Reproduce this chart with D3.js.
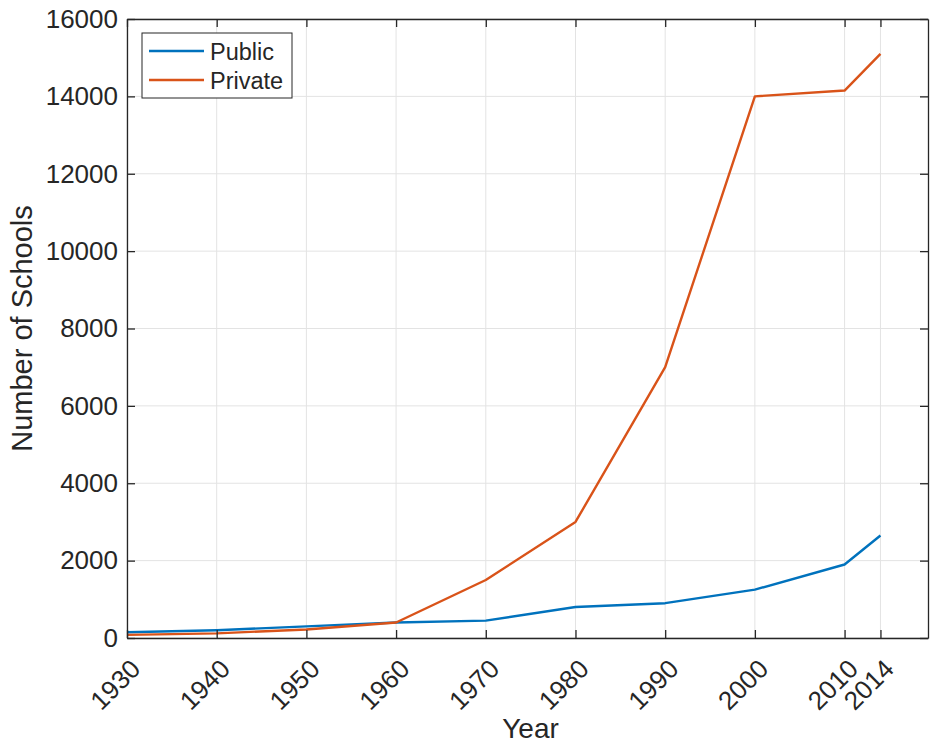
<!DOCTYPE html>
<html>
<head>
<meta charset="utf-8">
<script src="https://cdn.jsdelivr.net/npm/d3@7"></script>
<style>
  body { margin: 0; background: #fff; }
  svg text { font-family: "Liberation Sans", Arial, Helvetica, sans-serif; fill: #262626; }
</style>
</head>
<body>
<div id="chart"></div>
<script>
// data
var years = [1930, 1940, 1950, 1960, 1970, 1980, 1990, 2000, 2010, 2014];
var publicSchools = [150, 200, 300, 400, 450, 800, 900, 1250, 1900, 2650];
var privateSchools = [80, 120, 220, 400, 1500, 3000, 7000, 14000, 14150, 15100];
var seriesNames = ["Public", "Private"];
var seriesColors = ["#0072BD", "#D95319"];
var yTicks = [0, 2000, 4000, 6000, 8000, 10000, 12000, 14000, 16000];

var W = 930, H = 743;
var margin = { top: 19, right: 2, bottom: 105, left: 127 };
var width = W - margin.left - margin.right,
    height = H - margin.top - margin.bottom;

var svg = d3.select("#chart").append("svg")
  .attr("width", W)
  .attr("height", H);

var g = svg.append("g")
  .attr("transform", "translate(" + margin.left + "," + margin.top + ")");

var x = d3.scaleLinear().domain([1930, 2019.3]).range([0, width]);
var y = d3.scaleLinear().domain([0, 16000]).range([height, 0]);

// grid
g.append("g").selectAll("line.vgrid")
  .data(years).enter().append("line")
  .attr("x1", function(d) { return x(d); })
  .attr("x2", function(d) { return x(d); })
  .attr("y1", 0).attr("y2", height)
  .attr("stroke", "#e3e3e3").attr("stroke-width", 1);

g.append("g").selectAll("line.hgrid")
  .data(yTicks).enter().append("line")
  .attr("x1", 0).attr("x2", width)
  .attr("y1", function(d) { return y(d); })
  .attr("y2", function(d) { return y(d); })
  .attr("stroke", "#e3e3e3").attr("stroke-width", 1);

// lines
var line = d3.line()
  .x(function(d) { return x(d[0]); })
  .y(function(d) { return y(d[1]); });

[publicSchools, privateSchools].forEach(function(vals, i) {
  g.append("path")
    .datum(years.map(function(yr, j) { return [yr, vals[j]]; }))
    .attr("fill", "none")
    .attr("stroke", seriesColors[i])
    .attr("stroke-width", 2.4)
    .attr("stroke-linejoin", "round")
    .attr("d", line);
});

// axes (box with inward ticks)
var xAxis = d3.axisBottom(x).tickValues(years).tickSizeInner(-8).tickSizeOuter(0).tickFormat(d3.format("d"));
var xAxisTop = d3.axisTop(x).tickValues(years).tickSizeInner(-8).tickSizeOuter(0).tickFormat("");
var yAxis = d3.axisLeft(y).tickValues(yTicks).tickSizeInner(-8).tickSizeOuter(0).tickFormat(d3.format("d"));
var yAxisRight = d3.axisRight(y).tickValues(yTicks).tickSizeInner(-8).tickSizeOuter(0).tickFormat("");

var gx = g.append("g").attr("transform", "translate(0," + height + ")").call(xAxis);
gx.selectAll("text")
  .attr("font-size", 26)
  .attr("dy", null).attr("y", 0)
  .style("text-anchor", "end")
  .attr("transform", "translate(1,19) rotate(-45)")
  .attr("dominant-baseline", "hanging");

g.append("g").call(xAxisTop);

var gy = g.append("g").call(yAxis);
gy.selectAll("text")
  .attr("font-size", 26)
  .attr("x", -9);

g.append("g").attr("transform", "translate(" + width + ",0)").call(yAxisRight);

g.selectAll(".domain").attr("stroke", "#262626").attr("stroke-width", 1.3);
g.selectAll(".tick line").attr("stroke", "#262626").attr("stroke-width", 1.3);
g.selectAll(".tick text").attr("fill", "#262626").style("font-family", "'Liberation Sans', Arial, sans-serif");

// axis labels
svg.append("text")
  .attr("x", margin.left + width / 2 + 3)
  .attr("y", 738)
  .attr("text-anchor", "middle")
  .attr("font-size", 28)
  .text("Year");

svg.append("text")
  .attr("transform", "translate(32," + (margin.top + height / 2) + ") rotate(-90)")
  .attr("text-anchor", "middle")
  .attr("font-size", 29)
  .text("Number of Schools");

// legend
var legend = svg.append("g").attr("transform", "translate(142,33)");
legend.append("rect")
  .attr("width", 150).attr("height", 65)
  .attr("fill", "#fff").attr("stroke", "#262626").attr("stroke-width", 1);

seriesNames.forEach(function(name, i) {
  var ly = 18 + i * 29;
  legend.append("line")
    .attr("x1", 7).attr("x2", 62)
    .attr("y1", ly).attr("y2", ly)
    .attr("stroke", seriesColors[i]).attr("stroke-width", 2.4);
  legend.append("text")
    .attr("x", 68).attr("y", ly + 9)
    .attr("font-size", 23.5)
    .text(name);
});
</script>
</body>
</html>
